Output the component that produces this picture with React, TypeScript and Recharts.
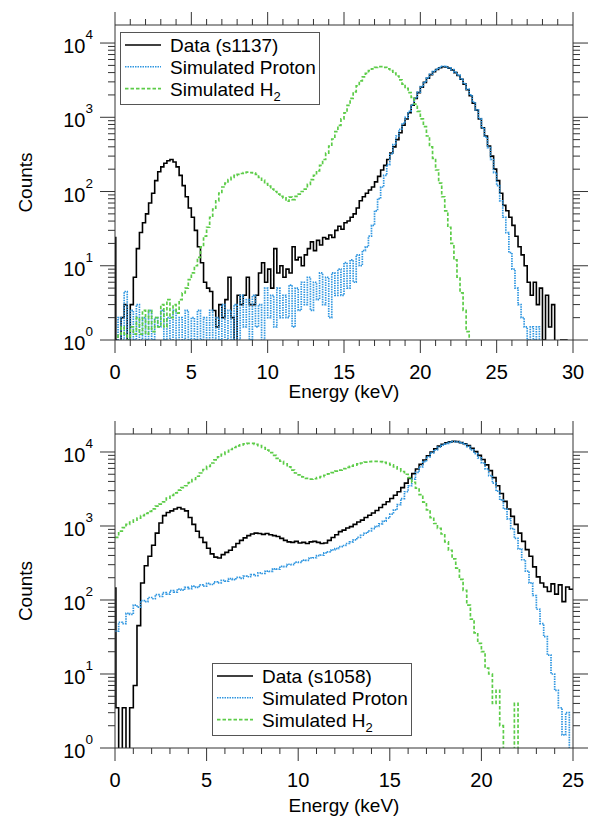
import React from 'react';
import { LineChart, Line, XAxis, YAxis, Legend } from 'recharts';

const FONT = '"Liberation Sans", Arial, Helvetica, sans-serif';
const AXIS_COLOR = '#333333';
const DATA_COLOR = '#000000';
const PROTON_COLOR = '#2f96e0';
const H2_COLOR = '#5ccc48';
const PROTON_DASH = '1.5 1';
const H2_DASH = '3.5 2';

// histogram bin width (keV); the first bin starts with a narrow zero-energy spike
const BIN = 0.2;
const SPIKE_WIDTH = 0.05;

// ---- run s1137 (0–30 keV) ----
const S1137_SPIKE = 24;
const S1137_DATA = [
  1, 0.5, 2, 3, 1, 3, 7, 17, 28, 38,
  50, 70, 95, 140, 185, 215, 240, 260, 270, 250,
  215, 165, 120, 85, 60, 45, 30, 18, 11, 6,
  5, 4.5, 2.5, 1.5, 3, 2, 3.5, 7, 2, 0.5,
  4, 3, 4, 7, 3, 3, 4, 8, 11, 6,
  9, 5, 17, 8, 10, 7, 9, 8, 18, 12,
  13, 10, 14, 17, 21, 16, 22, 19, 24, 23,
  26, 24, 30, 34, 31, 38, 40, 45, 50, 60,
  75, 85, 95, 105, 115, 135, 160, 195, 225, 270,
  330, 400, 500, 620, 780, 950, 1150, 1450, 1800, 2150,
  2550, 2950, 3350, 3750, 4100, 4400, 4650, 4800, 4750, 4600,
  4350, 4000, 3650, 3250, 2800, 2350, 1950, 1550, 1250, 950,
  720, 560, 410, 300, 200, 140, 95, 65, 55, 45,
  35, 25, 18, 14, 10, 6, 4, 6, 3, 5,
  1, 4, 1.5, 3, 0.5, 0.5, 1, 1, 0.5, 0.5,
];
const S1137_PROTON = [
  0.5, 2, 1, 4.5, 1, 2.5, 1, 3, 1, 2,
  1, 2.5, 1, 2, 1.5, 2.5, 1, 2, 1, 2.5,
  1, 2, 1, 2.5, 1, 2, 1, 2.5, 1, 2,
  1, 2.5, 1, 2, 1, 3, 1, 2.5, 1, 3,
  1, 4, 1.5, 3.5, 1, 4, 1.5, 3, 1, 5,
  2, 4, 1.5, 5, 2, 4, 2, 5.5, 1.5, 5,
  2.5, 6, 3, 7, 2.5, 6, 3.5, 8, 3, 7,
  2, 8, 4, 9, 4, 11, 5, 12, 6, 14,
  10, 16, 18, 25, 35, 55, 80, 115, 165, 230,
  320, 430, 560, 690, 830, 1000, 1200, 1480, 1820, 2180,
  2580, 2980, 3400, 3800, 4150, 4450, 4700, 4850, 4800, 4620,
  4380, 4050, 3700, 3300, 2850, 2400, 2000, 1600, 1260, 960,
  720, 540, 390, 270, 180, 120, 75, 45, 28, 15,
  9, 5, 3, 2, 1.5, 1, 1.5, 1, 1.5, 0.5,
  0.5, 0.5, 0.5, 0.5, 0.5, 0.5, 0.5, 0.5, 0.5, 0.5,
];
const S1137_H2 = [
  0.5, 1.2, 1.5, 1.2, 1, 1.5, 1.2, 2, 1.2, 2.5,
  1.2, 2.5, 1.3, 2, 1.5, 3, 1.5, 3.5, 2, 3,
  2.3, 3.5, 4.3, 5, 6.5, 8, 10, 13, 18, 25,
  33, 45, 58, 75, 95, 115, 130, 145, 155, 165,
  170, 175, 180, 182, 180, 178, 170, 155, 142, 128,
  118, 108, 100, 92, 86, 82, 74, 84, 78, 86,
  92, 100, 108, 125, 145, 165, 190, 225, 270, 330,
  410, 510, 640, 780, 950, 1150, 1450, 1800, 2200, 2650,
  3100, 3500, 3900, 4250, 4500, 4700, 4800, 4800, 4700, 4500,
  4250, 3950, 3600, 3200, 2800, 2450, 2150, 1850, 1500, 1200,
  950, 750, 560, 400, 280, 195, 130, 85, 55, 33,
  20, 12, 7, 4.3, 2.5, 1.3, 0.5, 0.5, 0.5, 0.5,
  0.5, 0.5, 0.5, 0.5, 0.5, 0.5, 0.5, 0.5, 0.5, 0.5,
  0.5, 0.5, 0.5, 0.5, 0.5, 0.5, 0.5, 0.5, 0.5, 0.5,
  0.5, 0.5, 0.5, 0.5, 0.5, 0.5, 0.5, 0.5, 0.5, 0.5,
];

// ---- run s1058 (0–25 keV) ----
const S1058_SPIKE = 145;
const S1058_DATA = [
  3.5, 0.5, 3.5, 0.5, 3.5, 7, 45, 170, 290, 390,
  550, 800, 1100, 1380, 1520, 1600, 1700, 1780, 1700, 1600,
  1300, 1050, 850, 700, 600, 500, 420, 380, 370, 410,
  440, 470, 520, 580, 640, 690, 740, 780, 800, 790,
  770, 790, 760, 740, 720, 680, 640, 610, 600, 620,
  590, 600, 580, 610, 620, 600, 580, 590, 640, 700,
  760, 840, 880, 940, 980, 1050, 1130, 1200, 1300, 1400,
  1500, 1620, 1780, 1950, 2130, 2350, 2600, 2900, 3300, 3800,
  4400, 5100, 5900, 6800, 7800, 8900, 10000, 11000, 12000, 12700,
  13300, 13700, 13900, 13800, 13400, 12900, 12200, 11200, 10100, 9000,
  7900, 6700, 5600, 4500, 3500, 2750, 2150, 1700, 1350, 1050,
  800, 620, 480, 390, 280, 205, 170, 150, 130, 165,
  120, 160, 95, 150, 140,
];
const S1058_PROTON = [
  38, 50, 48, 66, 64, 85, 80, 98, 95, 108,
  104, 118, 112, 126, 120, 134, 128, 140, 136, 148,
  142, 154, 148, 160, 154, 168, 162, 176, 170, 184,
  180, 194, 188, 202, 196, 210, 206, 220, 214, 232,
  228, 246, 244, 264, 262, 284, 282, 304, 300, 324,
  322, 346, 344, 370, 372, 398, 404, 432, 446, 476,
  495, 525, 545, 580, 610, 650, 700, 750, 800, 860,
  920, 990, 1070, 1160, 1280, 1450, 1650, 1950, 2350, 2900,
  3500, 4300, 5300, 6300, 7400, 8600, 9700, 10700, 11600, 12400,
  13000, 13500, 13800, 13700, 13300, 12700, 11800, 10700, 9500, 8300,
  7100, 5900, 4800, 3800, 2950, 2250, 1700, 1250, 920, 680,
  490, 350, 245, 170, 115, 75, 48, 32, 18, 10,
  6, 3.5, 1.5, 3, 0.5,
];
const S1058_H2 = [
  700, 850, 950, 1050, 1130, 1200, 1280, 1380, 1480, 1580,
  1700, 1850, 1980, 2120, 2380, 2600, 2800, 3050, 3300, 3500,
  3850, 4250, 4700, 5200, 5800, 6400, 7100, 7800, 8600, 9300,
  10000, 10800, 11500, 12100, 12500, 12900, 13100, 13100, 12700, 12200,
  11500, 10600, 9800, 9000, 8200, 7500, 6900, 6300, 5700, 5200,
  4900, 4600, 4400, 4300, 4350, 4500, 4650, 4850, 5050, 5250,
  5500, 5700, 5950, 6200, 6450, 6650, 6900, 7100, 7300, 7400,
  7450, 7450, 7400, 7250, 7000, 6700, 6300, 5900, 5450, 5000,
  4500, 3900, 3250, 2650, 2100, 1650, 1300, 1080, 930, 780,
  610, 470, 360, 270, 190, 135, 85, 55, 36, 26,
  20, 12, 10, 4, 6, 2, 0.5, 0.5, 0.5, 4,
  0.5, 0.5, 0.5, 0.5, 0.5, 0.5, 0.5, 0.5, 0.5, 0.5,
  0.5, 0.5, 0.5, 0.5, 0.5,
];

// ---- axes ----
const LOG_TICKS = [
  1, 2, 3, 4, 5, 6, 7, 8, 9,
  10, 20, 30, 40, 50, 60, 70, 80, 90,
  100, 200, 300, 400, 500, 600, 700, 800, 900,
  1000, 2000, 3000, 4000, 5000, 6000, 7000, 8000, 9000,
  10000,
];
const Y_DOMAIN: [number, number] = [1, 17500];
const X_TICKS_30 = [0, 1, 2, 3, 4, 5, 6, 7, 8, 9, 10, 11, 12, 13, 14, 15, 16, 17, 18, 19, 20, 21, 22, 23, 24, 25, 26, 27, 28, 29, 30];
const X_TICKS_25 = [0, 1, 2, 3, 4, 5, 6, 7, 8, 9, 10, 11, 12, 13, 14, 15, 16, 17, 18, 19, 20, 21, 22, 23, 24, 25];

type Row = { e: number; data: number; proton: number; h2: number };

function buildRows(spike: number, data: number[], proton: number[], h2: number[]): Row[] {
  const rows: Row[] = [{ e: 0, data: spike, proton: proton[0], h2: h2[0] }];
  for (let i = 0; i < data.length; i++) {
    const e = i === 0 ? SPIKE_WIDTH : Math.round(i * BIN * 100) / 100;
    rows.push({ e, data: data[i], proton: proton[i], h2: h2[i] });
  }
  const n = data.length;
  rows.push({ e: Math.round(n * BIN * 100) / 100, data: data[n - 1], proton: proton[n - 1], h2: h2[n - 1] });
  return rows;
}

function YTick(props: any) {
  const { x, y, payload, side } = props;
  const v = payload.value as number;
  const exp = Math.round(Math.log10(v));
  const major = Math.abs(v - Math.pow(10, exp)) < 1e-6;
  const len = major ? 15 : 7;
  const dir = side === 'left' ? -1 : 1;
  return (
    <g>
      <line x1={x} x2={x + dir * len} y1={y} y2={y} stroke={AXIS_COLOR} strokeWidth={1} />
      {major && side === 'left' && (
        <text x={x - 22} y={y + 10} textAnchor="end" fontSize={20} fontFamily={FONT} fill="#000">
          10
          <tspan dy={-14} fontSize={13.5}>{exp}</tspan>
        </text>
      )}
    </g>
  );
}

function XTick(props: any) {
  const { x, y, payload, side } = props;
  const v = payload.value as number;
  const major = v % 5 === 0;
  const len = major ? 13 : 6;
  const dir = side === 'bottom' ? 1 : -1;
  return (
    <g>
      <line x1={x} x2={x} y1={y} y2={y + dir * len} stroke={AXIS_COLOR} strokeWidth={1} />
      {major && side === 'bottom' && (
        <text x={x} y={y + 39} textAnchor="middle" fontSize={20} fontFamily={FONT} fill="#000">
          {v}
        </text>
      )}
    </g>
  );
}

function LegendBox({ dataLabel }: { dataLabel: string }) {
  const rows = [
    { color: DATA_COLOR, dash: undefined as string | undefined, label: <>{dataLabel}</> },
    { color: PROTON_COLOR, dash: PROTON_DASH, label: <>Simulated Proton</> },
    {
      color: H2_COLOR,
      dash: H2_DASH,
      label: (
        <>
          Simulated H<tspan dy={5} fontSize={13}>2</tspan>
        </>
      ),
    },
  ];
  return (
    <svg width={201} height={74} style={{ display: 'block' }}>
      <rect x={0.5} y={0.5} width={199} height={72} fill="#fff" stroke="#555" strokeWidth={1} />
      {rows.map((r, i) => {
        const cy = 13 + i * 21.8;
        return (
          <g key={i}>
            <line x1={5} x2={41} y1={cy} y2={cy} stroke={r.color} strokeWidth={1.6} strokeDasharray={r.dash} />
            <text x={50} y={cy + 7} fontSize={19} fontFamily={FONT} fill="#000">
              {r.label}
            </text>
          </g>
        );
      })}
    </svg>
  );
}

type PanelProps = {
  rows: Row[];
  xMax: number;
  xTicks: number[];
  dataLabel: string;
  legendLeft: number;
  legendTop: number;
  height: number;
  marginBottom: number;
  titleDy: number;
};

function Panel({ rows, xMax, xTicks, dataLabel, legendLeft, legendTop, height, marginBottom, titleDy }: PanelProps) {
  const xTitle = (p: any) => {
    const vb = p.viewBox || { x: 115, y: 340, width: 458 };
    return (
      <text x={vb.x + vb.width / 2} y={vb.y + titleDy} textAnchor="middle" fontSize={19} fontFamily={FONT} fill="#000">
        Energy (keV)
      </text>
    );
  };
  const yTitle = (p: any) => {
    const vb = p.viewBox || { x: 55, y: 25, height: 315 };
    const cx = 32;
    const cy = vb.y + vb.height / 2;
    return (
      <text x={cx} y={cy} transform={`rotate(-90, ${cx}, ${cy})`} textAnchor="middle" fontSize={19} fontFamily={FONT} fill="#000">
        Counts
      </text>
    );
  };
  return (
    <LineChart width={592} height={height} data={rows} margin={{ top: 10, right: 4, bottom: marginBottom, left: 55 }}>
      <XAxis
        xAxisId="b"
        dataKey="e"
        type="number"
        domain={[0, xMax]}
        ticks={xTicks}
        interval={0}
        tickSize={0}
        tickMargin={0}
        tickLine={false}
        axisLine={{ stroke: AXIS_COLOR, strokeWidth: 1 }}
        height={40}
        tick={<XTick side="bottom" />}
        label={xTitle}
        allowDataOverflow
      />
      <XAxis
        xAxisId="t"
        orientation="top"
        dataKey="e"
        type="number"
        domain={[0, xMax]}
        ticks={xTicks}
        interval={0}
        tickSize={0}
        tickMargin={0}
        tickLine={false}
        axisLine={{ stroke: AXIS_COLOR, strokeWidth: 1 }}
        height={15}
        tick={<XTick side="top" />}
        allowDataOverflow
      />
      <YAxis
        yAxisId="l"
        type="number"
        scale="log"
        domain={Y_DOMAIN}
        allowDataOverflow
        ticks={LOG_TICKS}
        interval={0}
        tickSize={0}
        tickMargin={0}
        tickLine={false}
        axisLine={{ stroke: AXIS_COLOR, strokeWidth: 1 }}
        width={60}
        tick={<YTick side="left" />}
        label={yTitle}
      />
      <YAxis
        yAxisId="r"
        orientation="right"
        type="number"
        scale="log"
        domain={Y_DOMAIN}
        allowDataOverflow
        ticks={LOG_TICKS}
        interval={0}
        tickSize={0}
        tickMargin={0}
        tickLine={false}
        axisLine={{ stroke: AXIS_COLOR, strokeWidth: 1 }}
        width={15}
        tick={<YTick side="right" />}
      />
      <Line xAxisId="b" yAxisId="l" type="stepAfter" dataKey="data" stroke={DATA_COLOR} strokeWidth={1.6} dot={false} isAnimationActive={false} />
      <Line xAxisId="b" yAxisId="l" type="stepAfter" dataKey="proton" stroke={PROTON_COLOR} strokeWidth={1.7} strokeDasharray={PROTON_DASH} dot={false} isAnimationActive={false} />
      <Line xAxisId="b" yAxisId="l" type="stepAfter" dataKey="h2" stroke={H2_COLOR} strokeWidth={1.7} strokeDasharray={H2_DASH} dot={false} isAnimationActive={false} />
      <Legend
        align="center"
        verticalAlign="middle"
        content={() => <LegendBox dataLabel={dataLabel} />}
        wrapperStyle={{ left: legendLeft, top: legendTop, width: 201, height: 74 }}
      />
    </LineChart>
  );
}

const ROWS_S1137 = buildRows(S1137_SPIKE, S1137_DATA, S1137_PROTON, S1137_H2);
const ROWS_S1058 = buildRows(S1058_SPIKE, S1058_DATA, S1058_PROTON, S1058_H2);

export default function App() {
  return (
    <div style={{ position: 'absolute', left: 0, top: 0, width: 592, height: 817, background: '#fff', fontFamily: FONT }}>
      <div style={{ position: 'absolute', left: 0, top: 0 }}>
        <Panel rows={ROWS_S1137} xMax={30} xTicks={X_TICKS_30} dataLabel="Data (s1137)" legendLeft={120} legendTop={32} height={408} marginBottom={28} titleDy={58} />
      </div>
      <div style={{ position: 'absolute', left: 0, top: 409 }}>
        <Panel rows={ROWS_S1058} xMax={25} xTicks={X_TICKS_25} dataLabel="Data (s1058)" legendLeft={212} legendTop={254} height={408} marginBottom={29} titleDy={64} />
      </div>
    </div>
  );
}
